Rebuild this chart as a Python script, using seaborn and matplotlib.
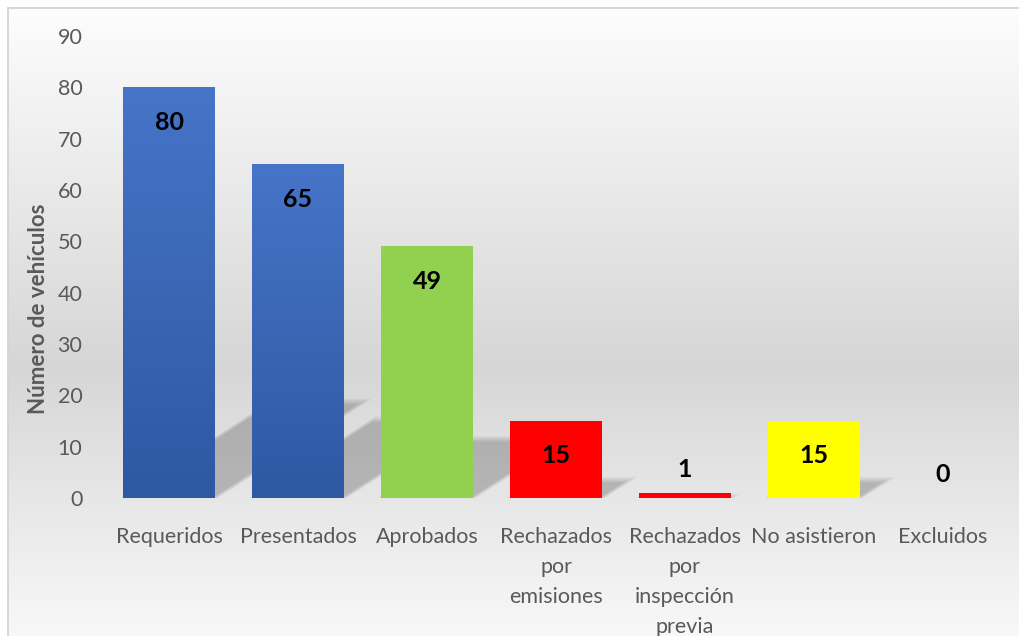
import numpy as np
import matplotlib
matplotlib.use("Agg")
import matplotlib.pyplot as plt
import seaborn as sns
from matplotlib.patches import Polygon
from matplotlib.colors import LinearSegmentedColormap

# datos del grafico
categorias = ["Requeridos", "Presentados", "Aprobados",
              "Rechazados\npor\nemisiones",
              "Rechazados\npor\ninspección\nprevia",
              "No asistieron", "Excluidos"]
vehiculos = [80, 65, 49, 15, 1, 15, 0]
colores = ["#4472C4", "#4472C4", "#92D050", "#FF0000", "#FF0000", "#FFFF00", "#FFFF00"]
y_ticks = [0, 10, 20, 30, 40, 50, 60, 70, 80, 90]

sns.set_style("white")
plt.rcParams["font.family"] = ["Lato", "DejaVu Sans"]

W, H = 1019, 636
fig = plt.figure(figsize=(W / 100, H / 100), dpi=100)
fig.patch.set_facecolor("white")

# fondo degradado del area del grafico
bg = fig.add_axes([0, 0, 1, 1], zorder=-10)
bg.set_axis_off()
bg_cmap = LinearSegmentedColormap.from_list(
    "fondo", [(0.0, "#fdfdfd"), (0.57, "#d6d6d6"), (1.0, "#f8f8f8")])
grad = np.linspace(0, 1, 256).reshape(-1, 1)
bx0, by1 = 8 / W, 1 - 8 / H
bg.imshow(grad, cmap=bg_cmap, aspect="auto", extent=[bx0, 1, 0, by1], origin="upper")
bg.plot([bx0, bx0], [0, by1], color="#d4d4d4", lw=1.3)
bg.plot([bx0, 1], [by1, by1], color="#d4d4d4", lw=1.3)
bg.set_xlim(0, 1)
bg.set_ylim(0, 1)

ax = fig.add_axes([104.5 / W, 1 - 498 / H, 903 / W, 462 / H])
ax.set_facecolor("none")

sns.barplot(x=categorias, y=vehiculos, hue=categorias, palette=colores,
            legend=False, width=0.713, saturation=1, linewidth=0, ax=ax, zorder=2)

# pixeles por unidad de datos (para la sombra difuminada)
px_x = 903 / len(categorias)
px_y = 462 / 90

# sombras en perspectiva y degradado de las barras azules
blue_cmap = LinearSegmentedColormap.from_list("azul", ["#2F58A2", "#4674C7"])
for bar in ax.patches:
    x0, w, h = bar.get_x(), bar.get_width(), bar.get_height()
    bar.set_edgecolor("none")
    if h <= 0:
        continue
    sh = 0.235 * h
    s = 1.55 * sh * px_y / px_x
    for d in np.linspace(-3, 3, 7):
        dx, dy = d / px_x, d / px_y
        top = max(sh - dy, 0.05)
        s_top = s * top / sh
        poly = Polygon([(x0 + dx, 0), (x0 + w - dx, 0),
                        (x0 + w - dx + s_top, top), (x0 + dx + s_top, top)],
                       closed=True, facecolor="black", edgecolor="none",
                       alpha=0.03, zorder=1)
        ax.add_patch(poly)
    fc = bar.get_facecolor()
    if abs(fc[0] - 0x44 / 255) < 0.01 and abs(fc[2] - 0xC4 / 255) < 0.01:
        im = ax.imshow(np.linspace(0, 1, 128).reshape(-1, 1), cmap=blue_cmap,
                       extent=[x0, x0 + w, 0, h], origin="lower", aspect="auto", zorder=2.5)
        im.set_clip_path(bar)

# etiquetas de datos
for i, v in enumerate(vehiculos):
    dy = -25 if v >= 5 else 17
    ax.annotate(str(v), (i, v), xytext=(0, dy), textcoords="offset points",
                ha="center", va="center", fontsize=18, fontweight="bold",
                color="black", zorder=5)

ax.set_xlim(-0.5, len(categorias) - 0.5)
ax.set_ylim(0, 90)
ax.set_yticks(y_ticks)
sns.despine(ax=ax, left=True, bottom=True)
ax.tick_params(axis="both", length=0, labelsize=15.5, labelcolor="#595959")
ax.tick_params(axis="y", pad=16)
ax.tick_params(axis="x", pad=21)
for lab in ax.get_xticklabels():
    lab.set_linespacing(1.62)
ax.set_xlabel("")
ax.set_ylabel("Número de vehículos", fontsize=16, fontweight="bold", color="#595959")
ax.yaxis.set_label_coords(-0.062, 0.409)

fig.savefig("out.png", dpi=100)
